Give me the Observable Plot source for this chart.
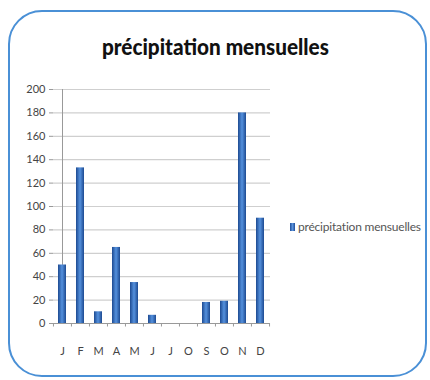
<!DOCTYPE html>
<html><head><meta charset="utf-8">
<script src="https://cdn.jsdelivr.net/npm/d3@7"></script>
<script src="https://cdn.jsdelivr.net/npm/@observablehq/plot@0.6"></script>
<style>
body{margin:0;background:#fff;}
#wrap{position:relative;width:430px;height:380px;overflow:hidden;}
#frame{position:absolute;left:8px;top:10px;width:419px;height:367px;border:2px solid #4a90d6;border-radius:34px;box-sizing:border-box;}
#title{position:absolute;left:0;width:430px;top:33px;text-align:center;font-family:Lato,"Open Sans",sans-serif;font-weight:900;font-size:22px;color:#111;white-space:nowrap;}
#title span{display:inline-block;transform-origin:center;}
#legend{position:absolute;left:290px;top:219px;font-family:Lato,sans-serif;font-size:12px;color:#555;display:flex;align-items:center;white-space:nowrap;letter-spacing:-0.2px;}
#legend span.sw{display:inline-block;width:5px;height:8px;background:linear-gradient(90deg,#1f4e99,#5b93dc,#1f4e99);margin-right:3px;}
#chart{position:absolute;left:0;top:0;}
</style></head>
<body>
<div id="wrap"><div id="frame"></div><div id="chart"></div><div id="title"><span id="tt"></span></div><div id="legend"></div></div>
<script>
const title = "précipitation mensuelles";
const seriesName = "précipitation mensuelles";
const monthLabels = ["J","F","M","A","M","J","J","O","S","O","N","D"];
const rainfall = [50,133,10,65,35,7,0,0,18,19,180,90];
const yTicks = [0,20,40,60,80,100,120,140,160,180,200];

const tt = document.getElementById("tt");
tt.textContent = title;
document.getElementById("legend").innerHTML = '<span class="sw"></span>' + seriesName;

const data = rainfall.map((v,i)=>({i, v}));
const idx = monthLabels.map((_,i)=>i);
const step = (270-53)/12;

const plot = Plot.plot({
  width: 430, height: 380,
  marginLeft: 53, marginRight: 160, marginTop: 89, marginBottom: 57,
  style: {fontFamily: "Lato, sans-serif", fontSize: "11px", color: "#444", background: "transparent"},
  x: {type: "band", domain: idx, paddingInner: 0.55, paddingOuter: 0.275},
  y: {domain: [0,200], ticks: yTicks},
  marks: [
    Plot.gridY(yTicks, {stroke: "#cfcfcf", strokeOpacity: 1, strokeWidth: 1.2}),
    Plot.axisY(yTicks, {tickSize: 4, tickPadding: 4, stroke: "#999", label: null, fill: "#444"}),
    Plot.axisX(idx, {tickSize: 0, tickPadding: 24, tickFormat: d => monthLabels[d], label: null, fill: "#444"}),
    Plot.ruleY([0], {stroke: "#999"}),
    Plot.ruleX([0], {x: () => 0, stroke: "#999"}),
    Plot.barY(data, {x: "i", y: "v", fill: "url(#barGrad)"}),
    Plot.ruleX(idx, {x: d => d, dx: -step/2, y1: 0, y2: -3, stroke: "#999"}),
    Plot.ruleX([11], {x: d => d, dx: step/2, y1: 0, y2: -3, stroke: "#999"})
  ]
});
const ns = "http://www.w3.org/2000/svg";
const defs = document.createElementNS(ns, "defs");
defs.innerHTML = '<linearGradient id="barGrad" x1="0" x2="1" y1="0" y2="0">' +
  '<stop offset="0" stop-color="#1d4a91"/><stop offset="0.45" stop-color="#4f8ad6"/>' +
  '<stop offset="0.55" stop-color="#4f8ad6"/><stop offset="1" stop-color="#1d4a91"/></linearGradient>';
plot.insertBefore(defs, plot.firstChild);
document.getElementById("chart").appendChild(plot);
const w = tt.getBoundingClientRect().width;
if (w > 0) tt.style.transform = `scaleX(${227 / w})`;
</script>
</body></html>
